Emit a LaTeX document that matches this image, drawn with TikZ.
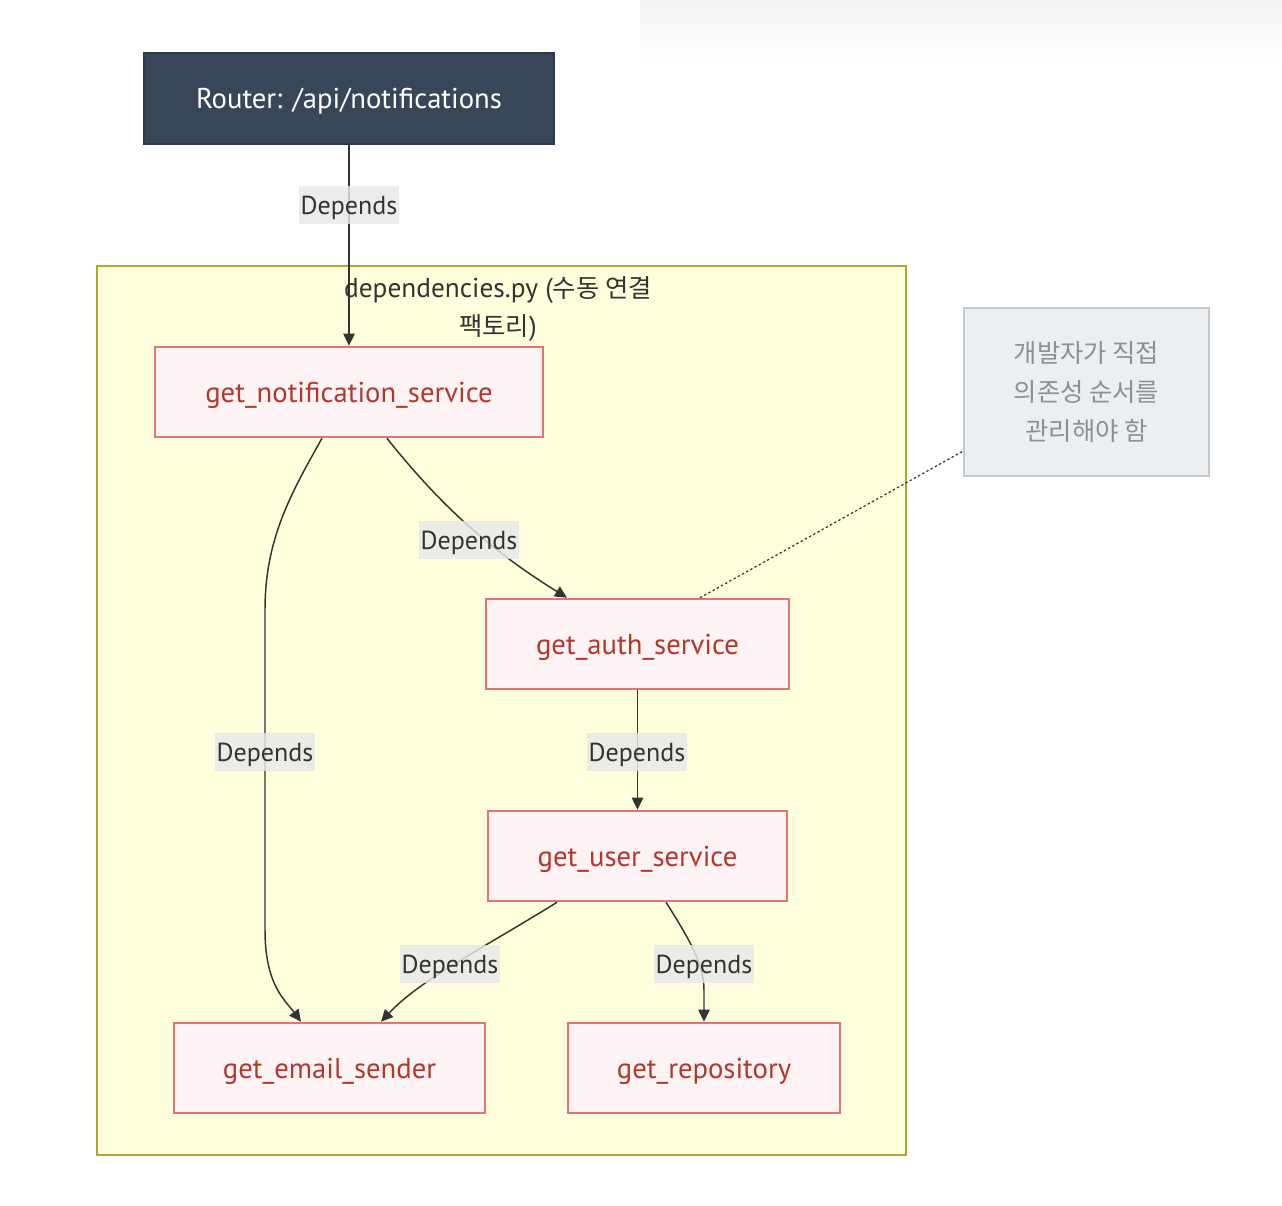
\documentclass[tikz,border=0pt]{standalone}
\usepackage{fontspec}
\setmainfont{PT Sans}
\newfontfamily\kr{Noto Sans CJK KR}
\usetikzlibrary{arrows.meta,calc,shapes.misc}
\definecolor{routerfill}{HTML}{384659}
\definecolor{routerdraw}{HTML}{2D3A4A}
\definecolor{clfill}{HTML}{FFFFDE}
\definecolor{cldraw}{HTML}{AAAA33}
\definecolor{nfill}{HTML}{FDF2F4}
\definecolor{ndraw}{HTML}{E27573}
\definecolor{ntext}{HTML}{B0392E}
\definecolor{notefill}{HTML}{ECEFF1}
\definecolor{notedraw}{HTML}{C4C8CB}
\definecolor{notetext}{HTML}{8A9196}
\definecolor{edgecol}{HTML}{333333}
\definecolor{lblfill}{HTML}{E8E8E8}
\tikzset{
  basefont/.style={font=\fontsize{21.5}{28}\selectfont},
  routerbox/.style={basefont, draw=routerdraw, fill=routerfill, text=white, line width=1.2pt,
    inner sep=0pt, text depth=0pt, minimum width=307.5pt, minimum height=68.25pt},
  fnbox/.style={basefont, draw=ndraw, fill=nfill, text=ntext, line width=1.9pt,
    inner sep=0pt, text depth=0pt, minimum height=67.5pt},
  notebox/.style={font=\kr\fontsize{19}{29.25}\selectfont, draw=notedraw, fill=notefill, text=notetext,
    line width=1.1pt, inner sep=0pt, minimum width=183.75pt, minimum height=126pt, align=center},
  dep/.style={draw=edgecol, line width=1.1pt, -{Triangle[length=9pt,width=8.5pt]}},
  deplabel/.style={font=\fontsize{19.5}{24}\selectfont, fill=lblfill, fill opacity=0.82, text opacity=1, text=edgecol,
    inner xsep=1.5pt, inner ysep=0pt, text depth=0pt, minimum height=28.5pt},
  notelink/.style={draw=edgecol, line width=0.9pt, dash pattern=on 1.8pt off 1.8pt}
}
\begin{document}
\begin{tikzpicture}[x=0.75pt,y=-0.75pt]
\useasboundingbox (0,0) rectangle (1282,1206);
% faint top-right shadow
\shade[top color=black!4, bottom color=white] (640,0) rectangle (1282,70);
% cluster
\draw[draw=cldraw, fill=clfill, line width=1pt] (97,266) rectangle (906,1155);
\node[font=\fontsize{20.5}{28.5}\selectfont, text=edgecol, align=center] (cltitle) at (498,309.5)
  {dependencies.py ({\kr\fontsize{19}{28.5}\selectfont 수동 연결}\\{\kr\fontsize{19}{28.5}\selectfont 팩토리})};
% nodes
\node[routerbox] (router) at (349,98.5) {Router: /api/notifications};
\node[fnbox, minimum width=291pt] (notif) at (349,392) {get\_notification\_service};
\node[fnbox, minimum width=227.25pt] (auth) at (637.5,644) {get\_auth\_service};
\node[fnbox, minimum width=224.25pt] (user) at (637.5,856) {get\_user\_service};
\node[fnbox, minimum width=233.25pt] (email) at (329.5,1068) {get\_email\_sender};
\node[fnbox, minimum width=204pt] (repo) at (704,1068) {get\_repository};
\node[notebox] (note) at (1086.5,392) {개발자가 직접\\의존성 순서를\\관리해야 함};
% edges
\draw[dep] (router.south) -- (notif.north);
\draw[dep] ($(notif.south)+(-27,0)$) .. controls (290,495) and (265,540) .. (265,610)
  -- (265,930) .. controls (265,985) and (285,1000) .. ($(email.north)+(-28.5,0)$);
\draw[dep] ($(notif.south)+(38,0)$) .. controls (440,505) and (490,550) .. ($(auth.north)+(-70.5,0)$);
\draw[dep] (auth.south) -- (user.north);
\draw[dep] ($(user.south)+(-80.5,0)$) .. controls (480,950) and (420,980) .. ($(email.north)+(51.5,0)$);
\draw[dep] ($(user.south)+(28.5,0)$) .. controls (690,940) and (704,965) .. (704,990) -- (repo.north);
\draw[notelink] ($(auth.north)+(62.5,0)$) -- ($(note.west)+(0,59)$);
% labels
\node[deplabel] (l1) at (349,205) {Depends};
\node[deplabel] (l2) at (265,752) {Depends};
\node[deplabel] (l3) at (469,540) {Depends};
\node[deplabel] (l4) at (637,752) {Depends};
\node[deplabel] (l5) at (450,964) {Depends};
\node[deplabel] (l6) at (704,964) {Depends};
\end{tikzpicture}
\end{document}
